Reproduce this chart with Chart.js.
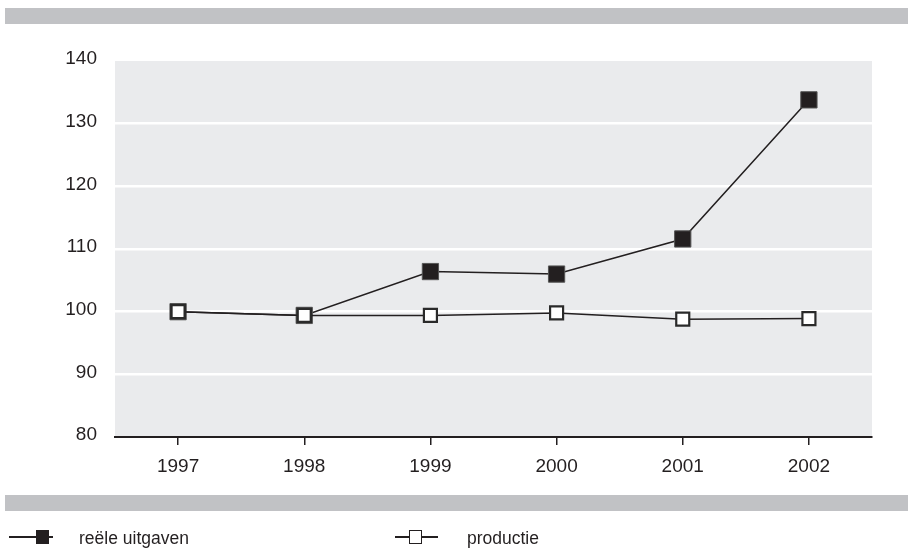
<!DOCTYPE html>
<html>
<head>
<meta charset="utf-8">
<script src="https://cdn.jsdelivr.net/npm/chart.js@4/dist/chart.umd.min.js"></script>
<style>
  html, body { margin: 0; padding: 0; background: #fff; }
  #wrap { position: relative; width: 908px; height: 549px; overflow: hidden; font-family: "Liberation Sans", Arial, sans-serif; }
  #chart { position: absolute; left: 0; top: 0; }
  .band { position: absolute; left: 5px; right: 0; height: 16px; background: #c1c2c5; }
  .leg { position: absolute; font-size: 17.5px; color: #231f20; line-height: 20px; }
  .sym { position: absolute; height: 14px; }
  .sym .ln { position: absolute; left: 0; right: 0; top: 6px; height: 2px; background: #231f20; }
  .sym .sq { position: absolute; top: 0; width: 13px; height: 14px; box-sizing: border-box; }
</style>
</head>
<body>
<div id="wrap">
  <canvas id="chart" width="908" height="549"></canvas>
  <div class="band" style="top:8px"></div>
  <div class="band" style="top:495px"></div>

  <div class="sym" style="left:9px; top:530px; width:44px">
    <div class="ln"></div>
    <div class="sq" style="left:27px; background:#231f20;"></div>
  </div>
  <div class="leg" style="left:79px; top:528px">reële uitgaven</div>

  <div class="sym" style="left:395px; top:530px; width:43px">
    <div class="ln"></div>
    <div class="sq" style="left:14px; background:#fff; border:1.5px solid #231f20;"></div>
  </div>
  <div class="leg" style="left:467px; top:528px">productie</div>
</div>
<script>
// Index figures, 1997 = 100
const jaren = ['1997', '1998', '1999', '2000', '2001', '2002'];
const reeleUitgaven = [100, 99.4, 106.4, 106.0, 111.6, 133.8];
const productie = [100, 99.4, 99.4, 99.8, 98.8, 98.9];
const yTicks = [80, 90, 100, 110, 120, 130, 140];

const plotBackground = {
  id: 'plotBackground',
  beforeDraw(chart) {
    const { ctx, chartArea: a } = chart;
    ctx.save();
    ctx.fillStyle = '#eaebed';
    ctx.fillRect(a.left, a.top, a.right - a.left, a.bottom - a.top);
    ctx.restore();
  }
};

new Chart(document.getElementById('chart'), {
  type: 'line',
  data: {
    labels: jaren,
    datasets: [
      {
        label: 'reële uitgaven',
        data: reeleUitgaven,
        borderColor: '#231f20',
        borderWidth: 1.5,
        pointStyle: 'rect',
        pointRadius: 11.5,
        pointBackgroundColor: '#231f20',
        pointBorderColor: '#555',
        pointBorderWidth: 1,
        tension: 0,
        order: 1
      },
      {
        label: 'productie',
        data: productie,
        borderColor: '#231f20',
        borderWidth: 1.5,
        pointStyle: 'rect',
        pointRadius: 9.2,
        pointBackgroundColor: '#ffffff',
        pointBorderColor: '#2a2a2a',
        pointBorderWidth: 2.2,
        tension: 0,
        order: 0
      }
    ]
  },
  options: {
    responsive: false,
    animation: false,
    devicePixelRatio: 1,
    layout: { padding: { left: 0, top: 61, right: 36, bottom: 0 } },
    plugins: { legend: { display: false }, tooltip: { enabled: false } },
    elements: { point: { hoverRadius: 0 } },
    scales: {
      x: {
        type: 'category',
        offset: true,
        afterFit(scale) { scale.height = 112; },
        grid: {
          drawOnChartArea: false,
          drawTicks: true,
          tickLength: 8,
          color: '#231f20',
          lineWidth: 1.5
        },
        border: { display: true, color: '#231f20', width: 2 },
        ticks: {
          color: '#231f20',
          padding: 10,
          font: { family: '"Liberation Sans", Arial, sans-serif', size: 19 }
        }
      },
      y: {
        min: 80,
        max: 140,
        afterFit(scale) { scale.width = 115; },
        afterBuildTicks(scale) { scale.ticks = yTicks.map(v => ({ value: v })); },
        grid: {
          color: (c) => (c.tick && (c.tick.value === 80 || c.tick.value === 140)) ? 'rgba(0,0,0,0)' : '#ffffff',
          lineWidth: 2.5,
          drawTicks: false
        },
        border: { display: false },
        ticks: {
          color: '#231f20',
          padding: 18,
          labelOffset: -2,
          font: { family: '"Liberation Sans", Arial, sans-serif', size: 19 }
        }
      }
    }
  },
  plugins: [plotBackground]
});
</script>
</body>
</html>
